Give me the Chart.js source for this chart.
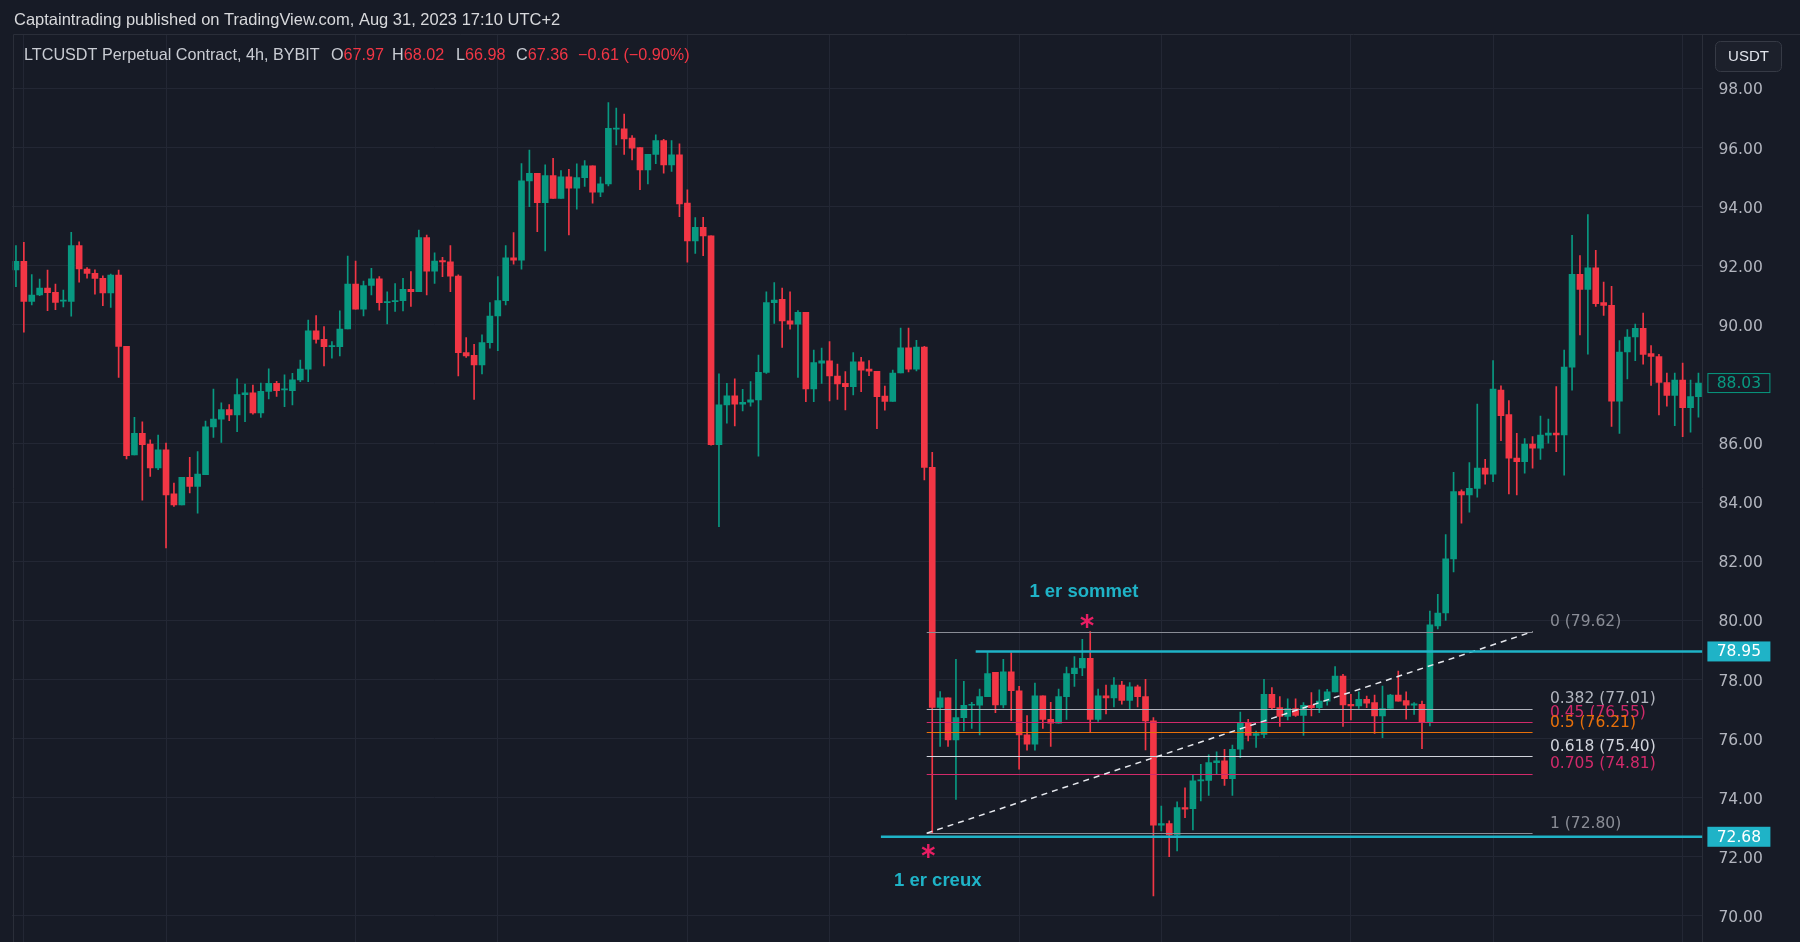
<!DOCTYPE html>
<html lang="en">
<head>
<meta charset="utf-8">
<title>LTCUSDT Perpetual Contract, 4h</title>
<script src="https://cdn.jsdelivr.net/npm/chart.js@4.4.0/dist/chart.umd.min.js"></script>
<style>
  html, body { margin: 0; padding: 0; background: #171b26; }
  #wrap { width: 1800px; height: 942px; }
</style>
</head>
<body>
<div id="wrap"><canvas id="chart" width="1800" height="942"></canvas></div>
<script>
// 4h candles
var opens = [
91.86,92.15,90.79,91.01,91.24,91.10,90.80,90.79,92.68,91.89,91.74,91.57,91.08,91.68,89.27,85.60,86.33,85.97,85.16,85.77,
84.28,83.91,84.84,84.53,84.93,86.55,86.81,87.13,86.95,87.64,87.70,87.02,87.75,88.02,87.80,87.77,88.14,88.50,89.80,89.51,
89.26,89.26,89.86,91.38,90.53,91.33,91.56,90.75,90.78,90.82,91.20,91.12,92.95,91.82,92.17,92.13,91.65,89.06,88.97,88.64,
89.40,90.30,90.82,92.27,92.19,94.87,95.13,94.13,95.05,94.28,95.01,94.62,94.98,95.38,94.49,94.77,96.62,96.63,96.32,96.00,
95.24,95.77,96.23,95.41,95.75,94.12,92.84,93.30,93.01,85.95,87.29,87.60,87.32,87.38,87.46,88.39,90.75,90.86,90.14,90.02,
90.42,87.83,88.70,88.78,88.27,88.02,87.91,88.75,88.50,88.43,87.59,87.41,88.37,89.22,88.50,89.25,85.18,77.06,77.38,75.96,
76.71,77.13,77.13,77.42,78.24,77.14,78.26,77.62,76.13,75.81,77.45,76.65,76.52,77.42,78.20,78.39,78.72,76.65,77.45,77.38,
77.81,77.29,77.75,77.42,76.60,73.07,73.13,72.74,73.67,73.63,74.57,74.59,75.19,75.25,74.65,75.64,76.52,76.11,76.14,77.50,
77.05,76.75,77.02,76.79,77.13,77.05,77.27,77.58,78.12,77.16,77.11,77.33,77.22,76.77,77.02,77.47,77.29,77.13,77.16,76.56,
79.81,80.25,82.08,84.36,84.25,84.47,85.15,84.95,87.79,86.96,85.49,85.37,85.97,85.83,86.27,86.34,86.28,88.57,91.71,91.20,
91.93,90.75,90.66,87.42,89.08,89.59,89.88,89.03,88.93,88.05,87.61,88.13,87.20,87.57
];
var highs = [
92.68,92.79,91.70,91.55,91.85,91.38,91.18,93.13,92.81,91.94,91.86,91.66,91.72,91.85,89.27,86.87,86.72,86.11,86.27,86.00,
84.65,84.84,85.52,85.71,86.74,87.83,87.36,87.30,88.17,88.00,87.96,88.03,88.51,88.09,88.31,88.36,88.81,90.16,90.31,89.94,
89.43,90.47,92.33,92.16,91.48,91.91,91.63,91.12,91.40,91.57,91.80,93.21,93.04,92.44,92.28,92.68,91.69,89.57,89.34,89.66,
90.75,91.63,92.68,93.12,95.46,95.91,95.13,95.41,95.63,95.22,95.26,95.45,95.56,95.38,95.00,97.52,97.33,97.13,96.40,96.00,
95.77,96.43,96.28,96.23,96.12,94.57,93.63,93.64,93.01,88.34,88.02,88.17,87.82,88.08,88.98,91.12,91.43,91.24,91.12,90.48,
90.42,89.15,89.21,89.43,88.67,88.42,89.06,88.90,88.79,88.43,87.93,88.47,89.89,89.89,89.48,89.27,85.69,77.59,77.38,78.68,
77.94,77.23,77.68,78.91,78.24,78.68,78.91,77.77,76.78,77.88,77.45,77.23,77.68,78.42,78.78,79.36,79.62,77.68,77.81,78.07,
77.94,77.90,77.81,78.01,76.71,73.72,73.22,73.86,74.34,74.76,75.13,75.45,75.55,75.64,75.78,76.90,76.65,76.26,78.01,77.73,
77.42,77.35,77.35,77.22,77.56,77.65,77.67,78.44,78.18,77.50,77.58,77.44,77.47,77.78,77.50,78.29,77.58,77.22,77.27,80.32,
80.88,82.90,85.01,84.42,85.34,87.32,85.45,88.79,87.94,87.44,86.33,86.15,86.22,86.91,86.81,87.91,89.15,93.03,92.34,93.73,
92.52,91.45,91.30,89.47,89.84,90.03,90.40,89.30,89.00,88.37,88.37,88.71,88.13,88.37
];
var lows = [
91.29,89.75,90.67,90.99,90.48,90.51,90.61,90.29,91.44,91.58,91.04,90.65,90.59,88.22,85.46,85.60,84.07,84.87,85.10,82.45,
83.86,83.91,84.31,83.63,84.93,86.19,86.02,86.76,86.39,86.72,86.98,86.87,87.49,87.58,87.23,87.29,88.08,88.08,89.38,88.61,
88.87,88.95,89.86,90.53,90.30,91.01,90.50,90.03,90.45,90.47,90.62,91.12,91.01,91.40,91.63,91.12,88.27,88.90,87.48,88.34,
89.21,89.13,90.67,92.05,91.88,94.00,93.15,92.50,94.28,94.28,93.04,93.91,94.68,94.12,94.34,94.70,96.09,95.77,95.58,94.57,
94.77,95.45,95.13,95.19,93.66,92.12,92.42,92.34,85.93,83.17,86.67,86.58,87.09,87.25,85.56,88.36,90.05,89.24,89.85,88.22,
87.40,87.40,88.02,87.43,87.48,87.12,87.63,87.74,88.28,86.49,87.11,87.41,88.37,88.41,88.44,84.75,72.80,75.74,75.74,73.94,
76.26,76.35,76.13,77.42,76.88,77.04,76.61,74.97,75.61,75.61,76.35,75.74,76.52,76.65,77.77,78.13,76.22,76.58,76.84,77.07,
77.17,77.00,77.07,75.62,70.68,72.88,72.01,72.20,73.33,72.91,73.89,74.08,74.79,74.42,74.08,75.36,75.92,75.70,76.03,76.99,
76.41,76.63,76.75,76.11,76.77,76.88,77.13,77.58,76.41,76.63,77.02,77.05,76.18,76.03,77.02,77.27,76.66,76.82,75.66,76.43,
79.71,80.00,81.64,83.29,83.66,84.17,84.61,84.69,86.08,84.28,84.25,84.98,85.15,85.45,86.00,85.71,84.91,87.79,89.66,89.01,
90.62,90.32,86.56,86.33,88.17,88.79,88.67,87.95,86.95,87.25,86.59,86.22,86.37,86.88
];
var closes = [
92.15,90.79,91.01,91.24,91.09,90.76,90.84,92.68,91.89,91.74,91.57,91.08,91.68,89.27,85.57,86.33,85.95,85.16,85.77,84.25,
83.91,84.84,84.53,84.95,86.55,86.81,87.13,86.95,87.64,87.70,87.02,87.75,88.02,87.77,87.82,88.14,88.50,89.80,89.51,89.26,
89.30,89.86,91.38,90.53,91.33,91.56,90.75,90.78,90.82,91.20,91.12,92.95,91.82,92.16,92.13,91.65,89.06,88.95,88.64,89.40,
90.30,90.82,92.27,92.19,94.87,95.13,94.13,95.05,94.28,95.01,94.62,94.98,95.38,94.49,94.77,96.65,96.65,96.29,95.98,95.24,
95.77,96.23,95.41,95.75,94.09,92.84,93.30,93.01,85.95,87.29,87.60,87.32,87.38,87.46,88.39,90.75,90.84,90.13,90.02,90.42,
87.83,88.72,88.78,88.27,88.00,87.91,88.75,88.47,88.43,87.57,87.41,88.37,89.22,88.50,89.25,85.18,77.06,77.38,75.96,76.71,
77.13,77.16,77.42,78.20,77.14,78.26,77.62,76.13,75.81,77.45,76.65,76.52,77.42,78.20,78.39,78.72,76.65,77.45,77.38,77.81,
77.29,77.75,77.42,76.60,73.07,73.13,72.74,73.67,73.61,74.57,74.60,75.19,75.25,74.65,75.64,76.52,76.11,76.17,77.50,77.05,
76.75,77.02,76.79,77.13,77.05,77.27,77.58,78.12,77.14,77.11,77.33,77.20,76.77,77.02,77.47,77.27,77.13,77.18,76.56,79.85,
80.25,82.08,84.36,84.25,84.47,85.15,84.95,87.83,86.93,85.49,85.37,85.97,85.83,86.27,86.34,86.28,88.57,91.71,91.20,91.93,
90.72,90.66,87.42,89.08,89.59,89.88,89.00,88.93,88.05,87.61,88.13,87.20,87.57,88.03
];

var priceTicks = [70, 72, 74, 76, 78, 80, 82, 84, 86, 88, 90, 92, 94, 96, 98];
var dayLines = [1, 19, 43, 61, 85, 103, 127, 145, 169, 187, 211];

// fibonacci retracement drawn from the low to the top
var fibLevels = ['0', '0.382', '0.45', '0.5', '0.618', '0.705', '1'];
var fibPrices = [79.62, 77.01, 76.55, 76.21, 75.40, 74.81, 72.80];
var fibColors = ['#8a8d96', '#b2b5be', '#d12a6a', '#e8700a', '#d1d4dc', '#d12a6a', '#8a8d96'];
var fibFrom = 115.3, fibTo = 192;

// horizontal levels (teal)
var levelPrices = [78.95, 72.68];
var levelFrom = [121.5, 109.5];

var green = '#089981', red = '#f23645', teal = '#1fb3c7', pink = '#e91e63';
var axisFont = '15.5px "DejaVu Sans"';

var idx = opens.map(function (o, i) { return i; });
var candleColors = idx.map(function (i) { return closes[i] >= opens[i] ? green : red; });

var drawings = {
  id: 'drawings',
  afterDatasetsDraw: function (chart) {
    var c = chart.ctx, x = chart.scales.x, y = chart.scales.y, area = chart.chartArea;
    c.save();
    c.beginPath();
    c.rect(area.left, area.top, area.right - area.left, area.bottom - area.top);
    c.clip();

    // fib lines
    var x0 = x.getPixelForValue(fibFrom), x1 = x.getPixelForValue(fibTo);
    fibPrices.forEach(function (p, i) {
      var py = Math.round(y.getPixelForValue(p)) + 0.5;
      c.strokeStyle = fibColors[i];
      c.lineWidth = 1.2;
      c.beginPath(); c.moveTo(x0, py); c.lineTo(x1, py); c.stroke();
    });
    // trend line of the fib
    c.strokeStyle = '#e6e8ee';
    c.lineWidth = 1.5;
    c.setLineDash([6, 5]);
    c.beginPath();
    c.moveTo(x0, y.getPixelForValue(fibPrices[6]));
    c.lineTo(x1, y.getPixelForValue(fibPrices[0]));
    c.stroke();
    c.setLineDash([]);

    // fib labels
    c.font = axisFont;
    c.textAlign = 'left';
    c.textBaseline = 'bottom';
    var lx = x.getPixelForValue(194.2);
    fibPrices.forEach(function (p, i) {
      c.fillStyle = fibColors[i];
      c.fillText(fibLevels[i] + ' (' + p.toFixed(2) + ')', lx, y.getPixelForValue(p) - 2);
    });

    // teal levels
    c.strokeStyle = teal;
    c.lineWidth = 2.5;
    levelPrices.forEach(function (p, i) {
      var py = y.getPixelForValue(p);
      c.beginPath(); c.moveTo(x.getPixelForValue(levelFrom[i]), py); c.lineTo(area.right, py); c.stroke();
    });

    // asterisks
    [[135.6, 79.98], [115.5, 72.2]].forEach(function (pt) {
      var cx = x.getPixelForValue(pt[0]), cy = y.getPixelForValue(pt[1]);
      c.strokeStyle = pink;
      c.lineWidth = 2.4;
      for (var k = 0; k < 3; k++) {
        var a = Math.PI / 2 + k * Math.PI / 3;
        c.beginPath();
        c.moveTo(cx - Math.cos(a) * 7, cy - Math.sin(a) * 7);
        c.lineTo(cx + Math.cos(a) * 7, cy + Math.sin(a) * 7);
        c.stroke();
      }
    });

    // texts
    c.font = 'bold 18.5px "Liberation Sans"';
    c.fillStyle = teal;
    c.textAlign = 'center';
    c.textBaseline = 'middle';
    c.fillText('1 er sommet', x.getPixelForValue(135.2), y.getPixelForValue(80.97));
    c.fillText('1 er creux', x.getPixelForValue(116.7), y.getPixelForValue(71.18));
    c.restore();

    // price boxes on the axis
    c.save();
    c.font = axisFont;
    c.textAlign = 'center';
    c.textBaseline = 'middle';
    levelPrices.forEach(function (p) {
      var py = y.getPixelForValue(p);
      c.fillStyle = teal;
      c.fillRect(area.right + 5, py - 10, 63, 20);
      c.fillStyle = '#ffffff';
      c.fillText(p.toFixed(2), area.right + 36.5, py + 1);
    });
    var last = closes[closes.length - 1];
    var ly = y.getPixelForValue(last);
    c.fillStyle = '#171b26';
    c.fillRect(area.right + 5, ly - 10, 63, 20);
    c.strokeStyle = green;
    c.lineWidth = 1;
    c.strokeRect(area.right + 5.5, ly - 9.5, 62, 19);
    c.fillStyle = green;
    c.fillText(last.toFixed(2), area.right + 36.5, ly + 1);
    c.restore();
  },
  afterDraw: function (chart) {
    var c = chart.ctx;
    c.save();
    // pane borders
    c.strokeStyle = '#2a2e39';
    c.lineWidth = 1;
    c.beginPath();
    c.moveTo(13.5, 34.5); c.lineTo(1800, 34.5);
    c.moveTo(13.5, 34.5); c.lineTo(13.5, 942);
    c.stroke();

    // header
    c.textBaseline = 'middle';
    c.textAlign = 'left';
    c.font = '16.5px "Liberation Sans"';
    c.fillStyle = '#d8d9dc';
    c.fillText('Captaintrading published on TradingView.com, Aug 31, 2023 17:10 UTC+2', 14, 20);

    c.font = '16.2px "Liberation Sans"';
    var parts = [
      ['LTCUSDT Perpetual Contract, 4h, BYBIT', '#c9ccd3', 24],
      ['O', '#c9ccd3', 331], ['67.97', red],
      ['H', '#c9ccd3', 392], ['68.02', red],
      ['L', '#c9ccd3', 456], ['66.98', red],
      ['C', '#c9ccd3', 516], ['67.36', red],
      ['\u22120.61 (\u22120.90%)', red, 578]
    ];
    var cx = 0;
    parts.forEach(function (p) {
      if (p[2] !== undefined) cx = p[2];
      c.fillStyle = p[1];
      c.fillText(p[0], cx, 56);
      cx += c.measureText(p[0]).width;
    });

    // currency button
    c.strokeStyle = '#363a45';
    c.fillStyle = '#1c202b';
    c.beginPath();
    c.roundRect(1715.5, 41.5, 66, 30, 5);
    c.fill();
    c.stroke();
    c.fillStyle = '#e0e3eb';
    c.font = '15px "Liberation Sans"';
    c.textAlign = 'center';
    c.fillText('USDT', 1748.5, 57);
    c.restore();
  }
};

new Chart(document.getElementById('chart'), {
  type: 'bar',
  data: {
    datasets: [
      {
        data: idx.map(function (i) { return { x: i, y: [lows[i], highs[i]] }; }),
        backgroundColor: candleColors,
        barThickness: 1,
        grouped: false,
        order: 2
      },
      {
        data: idx.map(function (i) { return { x: i, y: [opens[i], closes[i]] }; }),
        backgroundColor: candleColors,
        barThickness: 6,
        minBarLength: 1,
        grouped: false,
        order: 1
      }
    ]
  },
  options: {
    responsive: false,
    animation: false,
    events: [],
    layout: { autoPadding: false, padding: { left: 12, top: 34, right: 0, bottom: 0 } },
    plugins: { legend: { display: false }, tooltip: { enabled: false } },
    scales: {
      x: {
        type: 'linear',
        offset: false,
        min: -0.5,
        max: 213.5,
        afterBuildTicks: function (a) { a.ticks = dayLines.map(function (v) { return { value: v }; }); },
        afterFit: function (a) { a.height = 0; },
        ticks: { display: false },
        grid: { color: '#232734', drawTicks: false, offset: false },
        border: { display: false }
      },
      y: {
        position: 'right',
        min: 69.12,
        max: 99.84,
        afterBuildTicks: function (a) { a.ticks = priceTicks.map(function (v) { return { value: v }; }); },
        afterFit: function (a) {
          a.width = 97.6;
          // labels sit well inside the range, no extra room needed above or below
          a.paddingTop = 0;
          a.paddingBottom = 0;
        },
        ticks: {
          callback: function (v) { return v.toFixed(2); },
          color: '#b2b5be',
          font: { family: 'DejaVu Sans', size: 15.5 },
          padding: 16,
          labelOffset: 2
        },
        grid: { color: '#232734', drawTicks: false },
        border: { display: true, color: '#2a2e39' }
      }
    }
  },
  plugins: [drawings]
});
</script>
</body>
</html>
